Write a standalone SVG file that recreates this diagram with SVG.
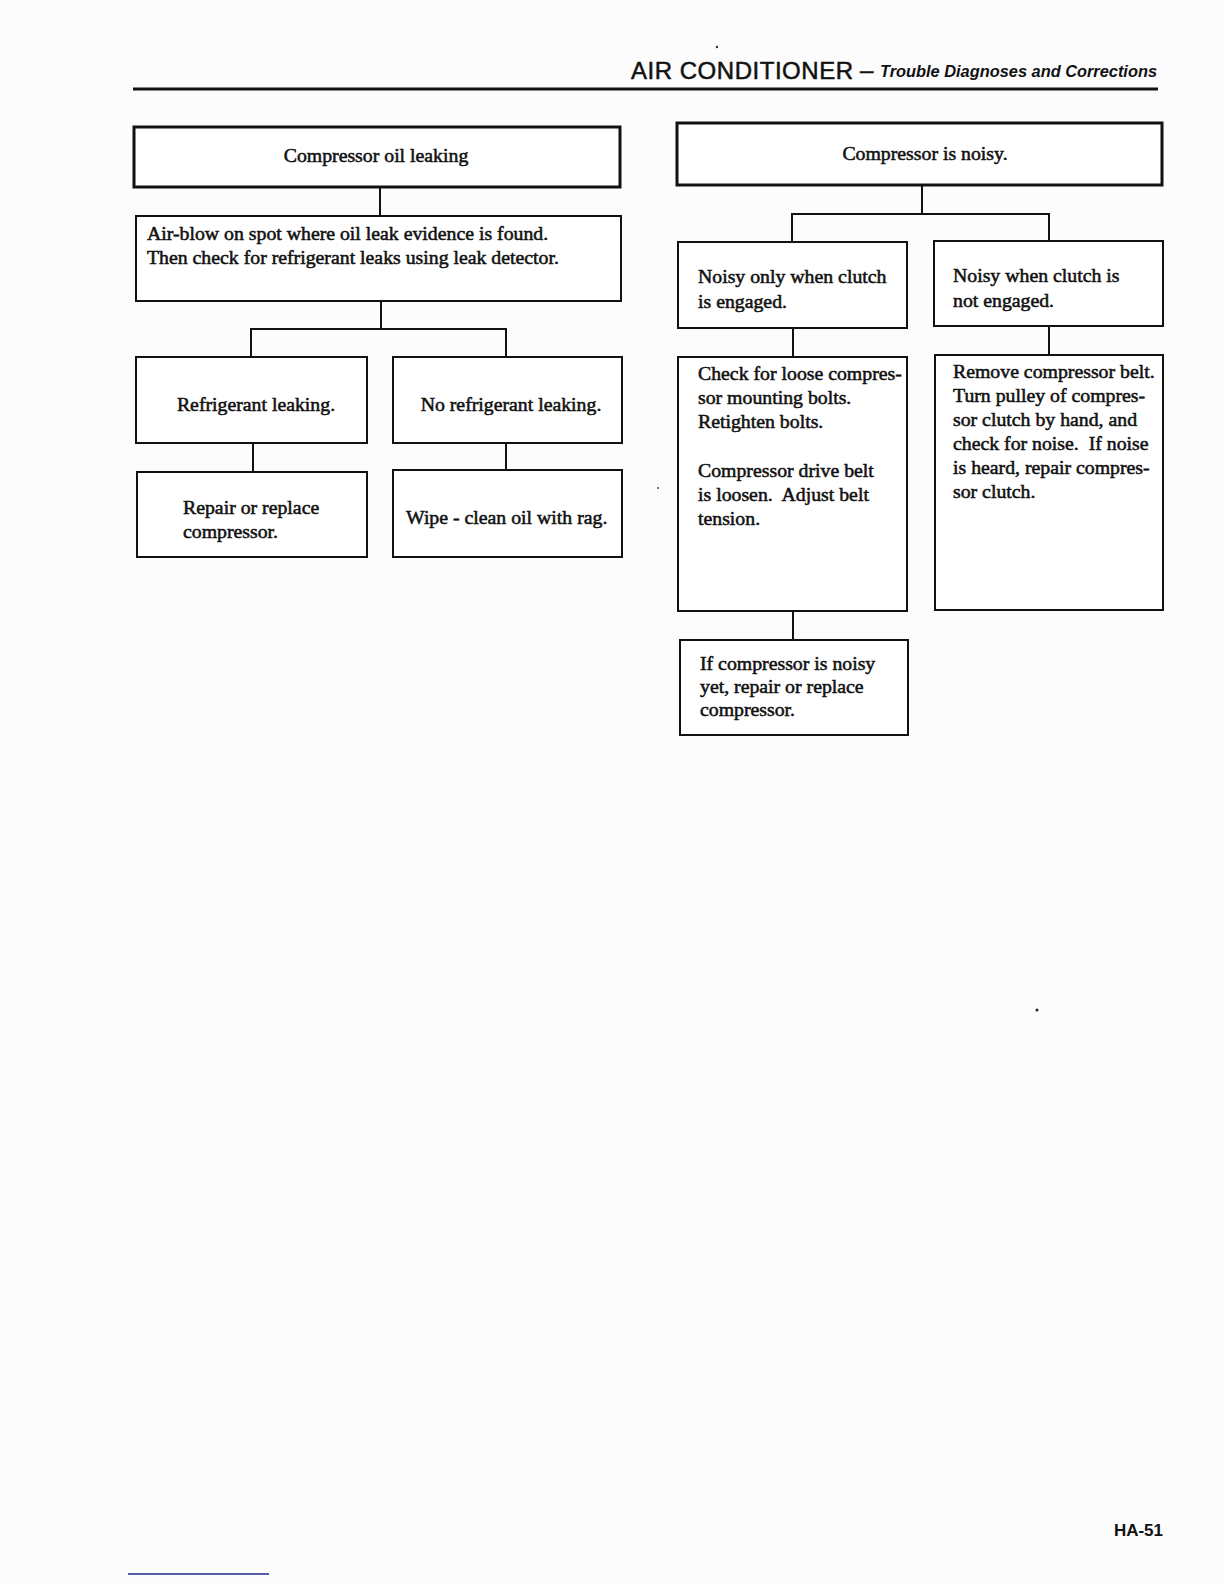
<svg xmlns="http://www.w3.org/2000/svg" width="1224" height="1584" viewBox="0 0 1224 1584">
<style>
.bg{fill:#fcfcfd}
.box{fill:#ffffff;stroke:#111;stroke-width:2}
.top{fill:#ffffff;stroke:#111;stroke-width:3}
.con{stroke:#111;stroke-width:2;fill:none}
.t{font-family:"Liberation Serif","Times New Roman",serif;font-size:19.8px;fill:#111;stroke:#111;stroke-width:0.55}
.c{text-anchor:middle}
.h1{font-family:"Liberation Sans",Arial,sans-serif;font-size:24px;fill:#111;stroke:#111;stroke-width:0.5}
.h2{font-family:"Liberation Sans",Arial,sans-serif;font-size:17px;fill:#111;font-weight:bold;font-style:italic}
</style>
<rect class="bg" x="0" y="0" width="1224" height="1584"/>
<g id="header">
<text class="h1" x="631" y="79" textLength="222" lengthAdjust="spacing">AIR CONDITIONER</text>
<text class="h1" x="860" y="78" font-size="18">–</text>
<text class="h2" x="880" y="77" textLength="277" lengthAdjust="spacingAndGlyphs">Trouble Diagnoses and Corrections</text>
<line x1="133" y1="89" x2="1158" y2="89" stroke="#111" stroke-width="3"/>
<circle cx="717" cy="47" r="1.2" fill="#333"/>
</g>
<g id="connectors">
<line class="con" x1="380" y1="187" x2="380" y2="216"/>
<polyline class="con" points="381,301 381,329"/>
<polyline class="con" points="251,357 251,329 506,329 506,357"/>
<line class="con" x1="253" y1="443" x2="253" y2="472"/>
<line class="con" x1="506" y1="443" x2="506" y2="470"/>
<line class="con" x1="922" y1="185" x2="922" y2="214"/>
<polyline class="con" points="792,242 792,214 1049,214 1049,241"/>
<line class="con" x1="793" y1="328" x2="793" y2="357"/>
<line class="con" x1="1049" y1="326" x2="1049" y2="355"/>
<line class="con" x1="793" y1="611" x2="793" y2="640"/>
</g>
<g id="n1">
<rect class="top" x="134" y="127" width="486" height="60"/>
<text class="t c" x="376" y="162">Compressor oil leaking</text>
</g>
<g id="n2">
<rect class="box" x="136" y="216" width="485" height="85"/>
<text class="t" x="147" y="240">Air-blow on spot where oil leak evidence is found.</text>
<text class="t" x="147" y="264">Then check for refrigerant leaks using leak detector.</text>
</g>
<g id="n3">
<rect class="box" x="136" y="357" width="231" height="86"/>
<text class="t c" x="256" y="411">Refrigerant leaking.</text>
</g>
<g id="n4">
<rect class="box" x="393" y="357" width="229" height="86"/>
<text class="t c" x="511" y="411">No refrigerant leaking.</text>
</g>
<g id="n5">
<rect class="box" x="137" y="472" width="230" height="85"/>
<text class="t" x="183" y="514">Repair or replace</text>
<text class="t" x="183" y="538">compressor.</text>
</g>
<g id="n6">
<rect class="box" x="393" y="470" width="229" height="87"/>
<text class="t" x="406" y="524">Wipe - clean oil with rag.</text>
</g>
<g id="n7">
<rect class="top" x="677" y="123" width="485" height="62"/>
<text class="t c" x="925" y="160">Compressor is noisy.</text>
</g>
<g id="n8">
<rect class="box" x="678" y="242" width="229" height="86"/>
<text class="t" x="698" y="283">Noisy only when clutch</text>
<text class="t" x="698" y="308">is engaged.</text>
</g>
<g id="n9">
<rect class="box" x="934" y="241" width="229" height="85"/>
<text class="t" x="953" y="282">Noisy when clutch is</text>
<text class="t" x="953" y="307">not engaged.</text>
</g>
<g id="n10">
<rect class="box" x="678" y="357" width="229" height="254"/>
<text class="t" x="698" y="380">Check for loose compres-</text>
<text class="t" x="698" y="404">sor mounting bolts.</text>
<text class="t" x="698" y="428">Retighten bolts.</text>
<text class="t" x="698" y="477">Compressor drive belt</text>
<text class="t" x="698" y="501" xml:space="preserve">is loosen.  Adjust belt</text>
<text class="t" x="698" y="525">tension.</text>
</g>
<g id="n11">
<rect class="box" x="935" y="355" width="228" height="255"/>
<text class="t" x="953" y="378">Remove compressor belt.</text>
<text class="t" x="953" y="402">Turn pulley of compres-</text>
<text class="t" x="953" y="426">sor clutch by hand, and</text>
<text class="t" x="953" y="450" xml:space="preserve">check for noise.  If noise</text>
<text class="t" x="953" y="474">is heard, repair compres-</text>
<text class="t" x="953" y="498">sor clutch.</text>
</g>
<g id="n12">
<rect class="box" x="680" y="640" width="228" height="95"/>
<text class="t" x="700" y="670">If compressor is noisy</text>
<text class="t" x="700" y="693">yet, repair or replace</text>
<text class="t" x="700" y="716">compressor.</text>
</g>
<g id="footer">
<text x="1163" y="1536" text-anchor="end" font-family="'Liberation Sans',Arial,sans-serif" font-size="17" font-weight="bold" fill="#111">HA-51</text>
<line x1="128" y1="1574" x2="269" y2="1574" stroke="#1a2a8a" stroke-width="1.5"/>
<circle cx="1037" cy="1010" r="1.5" fill="#222"/>
<circle cx="658" cy="488" r="1" fill="#444"/>
</g>
</svg>
